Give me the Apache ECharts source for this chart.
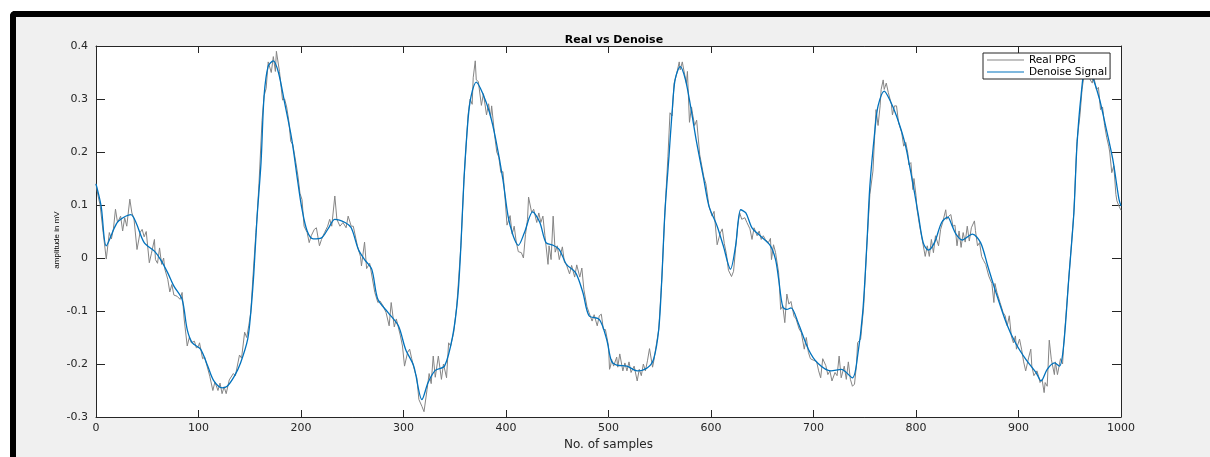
<!DOCTYPE html>
<html>
<head>
<meta charset="utf-8">
<script src="https://cdn.jsdelivr.net/npm/echarts@6/dist/echarts.min.js"></script>
<style>
  body { margin: 0; background: #fff; }
  #frame {
    position: absolute; left: 10px; top: 11px; width: 1200px; height: 446px;
    background: #f0f0f0; border-top: 6px solid #000; border-left: 6px solid #000;
    border-top-left-radius: 5px; box-sizing: border-box;
  }
  #main { position: absolute; left: 0; top: 0; width: 1210px; height: 457px; }
</style>
</head>
<body>
<div id="frame"></div>
<div id="main"></div>
<script>
// tick labels
const xTicks = [0, 100, 200, 300, 400, 500, 600, 700, 800, 900, 1000];
const yTicks = [-0.3, -0.2, -0.1, 0, 0.1, 0.2, 0.3, 0.4];

// Real PPG (raw, noisy)
const realSamples = [0,2,4,7,10,13,15,17,19,21,24,26,28,30,33,35,37,40,43,45,47,49,52,54,57,58,60,62,64,66,67,70,72,74,76,79,82,84,86,89,91,93,96,98,100,101,104,106,111,114,116,119,121,123,125,127,130,134,136,140,142,145,147,149,151,153,156,157,159,162,164,166,168,171,173,175,176,179,182,184,186,188,190,192,195,197,199,201,203,206,208,210,213,215,218,220,223,226,228,230,233,235,238,241,244,246,249,251,255,258,259,262,264,267,272,275,277,280,283,286,288,291,293,297,299,301,304,306,308,311,313,315,318,320,323,325,327,329,331,334,337,339,342,344,346,349,352,356,359,363,365,367,368,370,371,373,376,378,381,383,385,386,389,391,393,395,397,399,401,404,406,408,410,412,415,417,419,421,422,425,427,430,432,434,436,438,441,442,444,446,448,450,452,455,457,459,462,464,467,469,472,474,476,479,481,484,486,489,491,493,495,497,500,501,502,503,505,508,509,511,514,516,518,520,522,525,528,530,532,534,536,538,540,543,544,549,552,555,558,560,562,564,566,569,570,572,574,576,577,579,581,582,584,586,589,593,595,598,601,603,606,609,611,613,615,617,620,622,624,626,628,630,633,635,638,640,642,645,647,649,651,653,656,658,659,661,663,666,668,670,672,674,676,678,681,683,686,688,691,693,695,697,700,703,705,707,709,712,714,716,718,721,723,725,727,730,732,734,736,738,740,742,743,746,749,752,755,758,760,761,763,765,766,768,769,771,773,776,777,779,781,783,786,788,790,792,793,795,797,798,800,801,803,806,809,811,813,815,817,819,822,824,826,829,830,832,834,836,838,840,842,844,846,848,850,852,854,857,858,860,862,864,866,868,871,874,876,877,879,882,885,887,889,891,893,895,897,898,901,903,905,907,910,912,913,915,918,920,921,923,925,926,928,930,932,933,935,936,938,941,943,944,949,954,957,960,962,965,967,969,970,972,973,976,978,980,982,984,986,988,989,991,993,995,996,998,1000];
const realValues = [0.140,0.117,0.100,0.048,-0.002,0.048,0.036,0.055,0.092,0.067,0.079,0.051,0.076,0.060,0.111,0.085,0.075,0.016,0.048,0.054,0.040,0.050,-0.009,0.008,0.035,-0.003,-0.010,0.019,-0.012,0.000,-0.020,-0.040,-0.064,-0.050,-0.070,-0.072,-0.078,-0.065,-0.115,-0.166,-0.150,-0.160,-0.157,-0.170,-0.166,-0.160,-0.190,-0.187,-0.223,-0.250,-0.234,-0.250,-0.236,-0.256,-0.243,-0.256,-0.230,-0.218,-0.222,-0.183,-0.189,-0.140,-0.150,-0.128,-0.103,-0.040,0.048,0.073,0.140,0.260,0.306,0.320,0.370,0.350,0.380,0.352,0.390,0.352,0.298,0.300,0.285,0.260,0.220,0.214,0.180,0.155,0.122,0.110,0.060,0.048,0.029,0.042,0.054,0.057,0.023,0.035,0.048,0.060,0.073,0.060,0.117,0.073,0.060,0.067,0.057,0.079,0.060,0.060,0.023,0.003,-0.015,0.030,-0.020,-0.010,-0.065,-0.084,-0.081,-0.090,-0.103,-0.128,-0.084,-0.130,-0.115,-0.147,-0.166,-0.204,-0.178,-0.172,-0.190,-0.214,-0.226,-0.267,-0.280,-0.290,-0.248,-0.218,-0.237,-0.185,-0.225,-0.185,-0.229,-0.200,-0.226,-0.160,-0.166,-0.140,-0.090,0.023,0.148,0.270,0.300,0.290,0.340,0.372,0.336,0.333,0.288,0.310,0.270,0.291,0.265,0.287,0.230,0.200,0.190,0.161,0.163,0.115,0.062,0.080,0.045,0.060,0.030,0.012,0.010,0.000,0.044,0.073,0.115,0.086,0.092,0.067,0.085,0.067,0.079,0.042,-0.012,0.023,-0.003,0.079,0.011,0.023,-0.003,0.021,-0.008,-0.013,-0.030,-0.014,-0.036,-0.013,-0.036,-0.019,-0.060,-0.092,-0.103,-0.119,-0.107,-0.128,-0.109,-0.106,-0.135,-0.135,-0.166,-0.210,-0.204,-0.191,-0.204,-0.187,-0.206,-0.181,-0.213,-0.198,-0.213,-0.196,-0.216,-0.204,-0.232,-0.210,-0.222,-0.200,-0.213,-0.194,-0.171,-0.206,-0.196,-0.135,-0.040,0.085,0.192,0.274,0.268,0.330,0.343,0.370,0.355,0.370,0.349,0.330,0.352,0.256,0.285,0.272,0.250,0.260,0.195,0.153,0.140,0.098,0.079,0.088,0.025,0.047,0.055,0.027,0.008,-0.023,-0.035,-0.025,0.018,0.060,0.085,0.073,0.076,0.067,0.055,0.035,0.057,0.042,0.051,0.035,0.042,0.035,0.029,0.037,-0.003,0.025,0.010,-0.028,-0.097,-0.090,-0.122,-0.068,-0.087,-0.082,-0.110,-0.115,-0.134,-0.140,-0.172,-0.150,-0.178,-0.190,-0.193,-0.195,-0.213,-0.226,-0.190,-0.203,-0.220,-0.213,-0.232,-0.216,-0.222,-0.185,-0.226,-0.204,-0.229,-0.196,-0.229,-0.242,-0.238,-0.200,-0.160,-0.153,-0.090,0.023,0.120,0.164,0.243,0.280,0.250,0.287,0.318,0.336,0.318,0.330,0.312,0.290,0.270,0.287,0.287,0.255,0.237,0.211,0.218,0.198,0.176,0.180,0.129,0.150,0.118,0.092,0.067,0.035,0.003,0.023,0.003,0.035,0.010,0.042,0.023,0.054,0.067,0.091,0.073,0.079,0.082,0.060,0.062,0.023,0.051,0.020,0.048,0.030,0.060,0.032,0.057,0.070,0.052,0.023,0.029,0.003,-0.005,-0.012,-0.034,-0.048,-0.084,-0.048,-0.065,-0.084,-0.103,-0.109,-0.128,-0.109,-0.147,-0.160,-0.147,-0.172,-0.153,-0.172,-0.196,-0.213,-0.187,-0.172,-0.204,-0.222,-0.213,-0.226,-0.235,-0.229,-0.254,-0.235,-0.242,-0.155,-0.191,-0.188,-0.220,-0.196,-0.220,-0.190,-0.200,-0.166,-0.040,0.085,0.220,0.270,0.318,0.360,0.385,0.360,0.336,0.330,0.346,0.318,0.322,0.280,0.285,0.250,0.228,0.211,0.200,0.161,0.174,0.120,0.108,0.098,0.090];

// Denoise Signal (smooth)
const denoiseSamples = [0,5,10,18,22,34,39,47,57,63,70,76,84,89,94,102,109,115,123,128,135,141,148,151,154,157,161,164,168,173,178,184,191,197,201,206,212,220,227,233,243,249,256,262,269,275,285,295,302,310,318,324,331,340,348,353,356,359,363,366,371,377,384,390,397,402,407,412,418,426,433,439,446,452,459,468,475,481,491,498,503,508,518,528,538,544,549,552,555,559,562,565,570,575,580,586,593,598,606,612,619,624,629,634,640,648,658,663,666,670,674,678,685,695,704,717,727,738,743,748,752,755,760,763,769,774,781,789,795,802,807,812,818,825,831,835,839,845,855,863,870,878,888,897,907,917,922,928,935,940,944,949,954,957,961,966,972,979,985,992,998,1000];
const denoiseValues = [0.140,0.098,0.023,0.057,0.070,0.082,0.067,0.029,0.013,-0.003,-0.028,-0.053,-0.078,-0.135,-0.160,-0.172,-0.204,-0.232,-0.245,-0.242,-0.223,-0.198,-0.153,-0.103,-0.028,0.073,0.180,0.306,0.362,0.372,0.350,0.293,0.224,0.142,0.092,0.051,0.036,0.038,0.057,0.073,0.067,0.057,0.016,-0.003,-0.021,-0.078,-0.103,-0.128,-0.172,-0.204,-0.267,-0.235,-0.212,-0.204,-0.147,-0.072,0.023,0.148,0.262,0.306,0.332,0.312,0.274,0.224,0.148,0.079,0.042,0.024,0.048,0.087,0.067,0.029,0.024,0.016,-0.012,-0.028,-0.065,-0.109,-0.116,-0.152,-0.195,-0.202,-0.204,-0.213,-0.207,-0.191,-0.135,-0.040,0.085,0.192,0.274,0.337,0.361,0.337,0.287,0.218,0.148,0.098,0.060,0.023,-0.021,0.023,0.091,0.085,0.057,0.042,0.023,-0.003,-0.040,-0.092,-0.097,-0.094,-0.122,-0.172,-0.198,-0.213,-0.210,-0.226,-0.185,-0.103,0.023,0.136,0.243,0.287,0.315,0.300,0.268,0.218,0.161,0.085,0.029,0.015,0.029,0.067,0.077,0.062,0.045,0.034,0.045,0.029,-0.015,-0.065,-0.122,-0.160,-0.191,-0.216,-0.232,-0.210,-0.198,-0.204,-0.166,-0.040,0.085,0.211,0.306,0.369,0.343,0.300,0.249,0.186,0.111,0.098];

const font = 'DejaVu Sans';
const axisColor = '#262626';

const realData = realSamples.map((s, i) => [s, realValues[i]]);
const denoiseData = denoiseSamples.map((s, i) => [s, denoiseValues[i]]);

const chart = echarts.init(document.getElementById('main'), null, {renderer: 'canvas'});

const baseX = {
  type: 'value', min: xTicks[0], max: xTicks[xTicks.length - 1], interval: 100,
  axisLine: {show: true, onZero: false, lineStyle: {color: axisColor, width: 1}},
  axisTick: {show: true, inside: true, length: 7, lineStyle: {color: axisColor}},
  splitLine: {show: false}
};
const baseY = {
  type: 'value', min: yTicks[0], max: yTicks[yTicks.length - 1], interval: 0.1,
  axisLine: {show: true, onZero: false, lineStyle: {color: axisColor, width: 1}},
  axisTick: {show: true, inside: true, length: 9, lineStyle: {color: axisColor}},
  splitLine: {show: false}
};

chart.setOption({
  animation: false,
  backgroundColor: 'transparent',
  title: {
    text: 'Real vs Denoise', left: 609, top: 30, textAlign: 'center',
    textStyle: {fontFamily: font, fontSize: 11, fontWeight: 'bold', color: '#000'}
  },
  legend: {
    orient: 'vertical', left: 983, top: 53,
    padding: [1, 3, 1, 4], itemGap: 0, itemWidth: 37, itemHeight: 1,
    backgroundColor: '#fff', borderColor: axisColor, borderWidth: 1, borderRadius: 0,
    icon: 'rect',
    textStyle: {fontFamily: font, fontSize: 10.5, color: '#000', lineHeight: 12},
    data: ['Real PPG', 'Denoise Signal']
  },
  grid: {left: 96, top: 46, right: 89, bottom: 40, containLabel: false,
    show: true, backgroundColor: '#fff', borderWidth: 0},
  graphic: [{
    type: 'text', x: 57, y: 240, rotation: Math.PI / 2,
    style: {text: 'amplitude in mV', fontFamily: 'Liberation Sans', fontSize: 8,
      fill: '#000', align: 'center', verticalAlign: 'middle'}
  }],
  xAxis: [
    Object.assign({}, baseX, {
      position: 'bottom',
      name: 'No. of samples', nameLocation: 'middle', nameGap: 18,
      nameTextStyle: {fontFamily: font, fontSize: 12, color: axisColor},
      axisLabel: {show: true, margin: 6, color: axisColor, fontFamily: font, fontSize: 11,
        formatter: v => String(v)}
    }),
    Object.assign({}, baseX, {position: 'top', axisLabel: {show: false}})
  ],
  yAxis: [
    Object.assign({}, baseY, {
      position: 'left',
      axisLabel: {show: true, margin: 8, color: axisColor, fontFamily: font, fontSize: 11,
        formatter: v => String(Math.round(v * 10) / 10)}
    }),
    Object.assign({}, baseY, {position: 'right', axisLabel: {show: false}})
  ],
  series: [
    {
      name: 'Real PPG', type: 'line', xAxisIndex: 0, yAxisIndex: 0,
      data: realData, showSymbol: false, symbol: 'none', color: '#858585',
      lineStyle: {width: 1, color: '#858585'}, z: 2
    },
    {
      name: 'Denoise Signal', type: 'line', xAxisIndex: 0, yAxisIndex: 0,
      data: denoiseData, showSymbol: false, symbol: 'none', color: '#0072BD',
      smooth: 0.3,
      lineStyle: {width: 1.3, color: '#0072BD'}, z: 3
    }
  ]
});
</script>
</body>
</html>
